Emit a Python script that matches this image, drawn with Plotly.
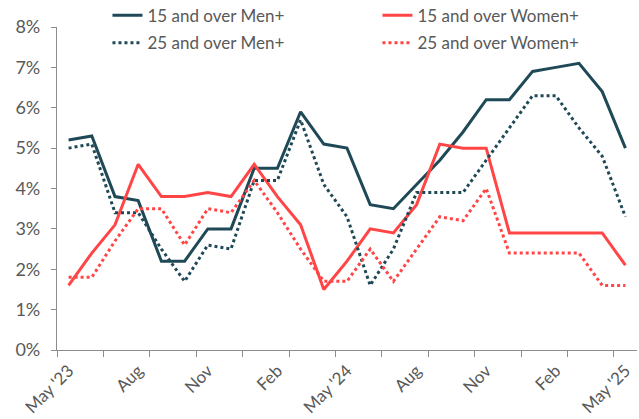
import plotly.graph_objects as go

months = list(range(25))  # May '23 .. May '25
tick_pos = [0, 3, 6, 9, 12, 15, 18, 21, 24]
tick_labels = ["May '23", "Aug", "Nov", "Feb", "May '24", "Aug", "Nov", "Feb", "May '25"]
y_ticks = [0, 1, 2, 3, 4, 5, 6, 7, 8]
y_labels = [f"{v}%" for v in y_ticks]

men_15 = [5.2, 5.3, 3.8, 3.7, 2.2, 2.2, 3.0, 3.0, 4.5, 4.5, 5.9, 5.1, 5.0,
          3.6, 3.5, 4.1, 4.7, 5.4, 6.2, 6.2, 6.9, 7.0, 7.1, 6.4, 5.0]
women_15 = [1.6, 2.4, 3.1, 4.6, 3.8, 3.8, 3.9, 3.8, 4.6, 3.8, 3.1, 1.5, 2.2,
            3.0, 2.9, 3.6, 5.1, 5.0, 5.0, 2.9, 2.9, 2.9, 2.9, 2.9, 2.1]
men_25 = [5.0, 5.1, 3.4, 3.4, 2.5, 1.7, 2.6, 2.5, 4.2, 4.2, 5.7, 4.1, 3.3,
          1.6, 2.5, 3.9, 3.9, 3.9, 4.7, 5.5, 6.3, 6.3, 5.5, 4.8, 3.3]
women_25 = [1.8, 1.8, 2.7, 3.5, 3.5, 2.6, 3.5, 3.4, 4.2, 3.4, 2.5, 1.7, 1.7,
            2.5, 1.7, 2.5, 3.3, 3.2, 4.0, 2.4, 2.4, 2.4, 2.4, 1.6, 1.6]

DARK = "#1F4957"
RED = "#FF4545"
TXT = "#595959"
AX = "#8C8C8C"
FONT = "Lato"

fig = go.Figure()
fig.add_trace(go.Scatter(x=months, y=men_15, mode="lines", name="15 and over Men+",
                         line=dict(color=DARK, width=3), legend="legend"))
fig.add_trace(go.Scatter(x=months, y=women_15, mode="lines", name="15 and over Women+",
                         line=dict(color=RED, width=3), legend="legend"))
fig.add_trace(go.Scatter(x=months, y=men_25, mode="lines", name="25 and over Men+",
                         line=dict(color=DARK, width=3, dash="dot"), legend="legend2"))
fig.add_trace(go.Scatter(x=months, y=women_25, mode="lines", name="25 and over Women+",
                         line=dict(color=RED, width=3, dash="dot"), legend="legend2"))

boundaries = [i - 0.5 for i in range(0, 25, 2)]

leg_common = dict(orientation="h", xanchor="left", yanchor="middle",
                  font=dict(family=FONT, size=17, color=TXT),
                  entrywidth=225, entrywidthmode="pixels",
                  bgcolor="rgba(0,0,0,0)", traceorder="normal")

fig.update_layout(
    width=639, height=419,
    margin=dict(l=57, r=2, t=27, b=69, autoexpand=False),
    paper_bgcolor="white", plot_bgcolor="white",
    font=dict(family=FONT, color=TXT),
    legend=dict(x=0.087, y=1.035, **leg_common),
    legend2=dict(x=0.087, y=0.950, **leg_common),
    xaxis=dict(
        range=[-0.5, 24.5], tickmode="array", tickvals=tick_pos, ticktext=tick_labels,
        tickangle=-45, ticks="", showgrid=False, zeroline=False, automargin=False,
        showline=True, linecolor=AX, linewidth=1.3, ticklabelstandoff=3,
        tickfont=dict(family=FONT, size=17, color=TXT),
        minor=dict(tickmode="array", tickvals=boundaries, ticks="outside",
                   ticklen=6, tickcolor=AX, tickwidth=1.3, showgrid=False),
    ),
    xaxis2=dict(
        range=[-0.5, 24.5], overlaying="x", anchor="y", side="bottom",
        tickmode="array", tickvals=boundaries, ticks="inside", ticklen=6,
        tickcolor=AX, tickwidth=1.3, showticklabels=False, showgrid=False,
        zeroline=False, showline=False, automargin=False,
    ),
    yaxis=dict(
        range=[0, 8], tickmode="array", tickvals=y_ticks, ticktext=y_labels,
        ticks="outside", ticklen=5, tickcolor=AX, tickwidth=1.3, automargin=False,
        showgrid=False, zeroline=False, showline=True, linecolor=AX, linewidth=1.3,
        ticklabelstandoff=7,
        tickfont=dict(family=FONT, size=18, color=TXT),
    ),
)

fig.write_html("out.html", config={"displayModeBar": False},
               post_script="document.body.style.margin='0';document.body.style.overflow='hidden';")
